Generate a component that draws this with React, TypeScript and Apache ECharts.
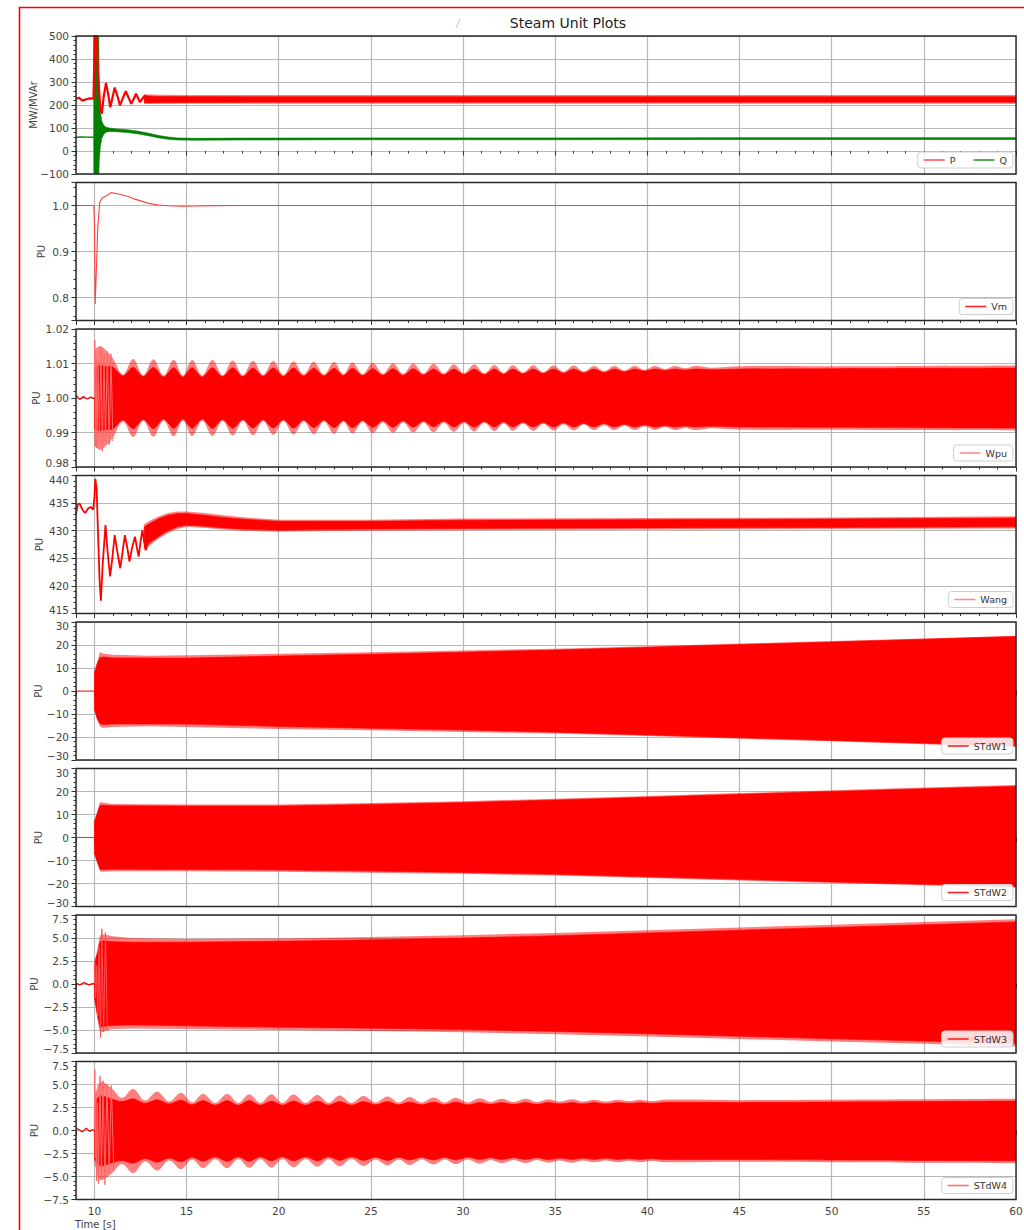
import React, { useEffect, useRef } from "react";
import * as echarts from "echarts";

type Pt = [number, number];
type Band = [number, number, number];

const FONT = "'DejaVu Sans', 'Liberation Sans', sans-serif";
const TITLE = "Steam Unit Plots";
const X_LABEL = "Time [s]";
const X_RANGE: Pt = [9, 60];
const X_STEP = 5;

// ---------- Panel 1: P (MW) and Q (MVAr)
const P_LINE: Pt[] = [
  [9.0, 226], [9.15, 232], [9.35, 219], [9.55, 225], [9.75, 229], [9.95, 228],
  [10.0, 420], [10.04, 650], [10.1, 560], [10.2, 330], [10.32, 185], [10.4, 162],
  [10.5, 235], [10.63, 296], [10.75, 245], [10.86, 190], [10.98, 232], [11.1, 276],
  [11.25, 238], [11.39, 198], [11.55, 232], [11.7, 260], [11.85, 232], [12.0, 205],
  [12.13, 226], [12.26, 249], [12.37, 230], [12.47, 212], [12.6, 228], [12.74, 241],
  [12.88, 222], [13.0, 214], [13.1, 225],
];
const P_OUTER: Band[] = [
  [12.7, 204, 247], [13.5, 204, 245], [15, 205, 244], [20, 205, 243], [30, 205, 243],
  [40, 205, 243], [50, 205, 243], [60, 205, 243],
];
const P_INNER: Band[] = [
  [12.7, 210, 240], [13.5, 211, 237], [20, 212, 236], [40, 212, 236], [60, 212, 236],
];
const Q_LINE: Pt[] = [[9.0, 60], [9.3, 61], [9.6, 60.5], [9.96, 60]];
const Q_BAND: Band[] = [
  [9.96, 58, 62], [9.97, -160, 620], [10.22, -160, 620], [10.26, -40, 260], [10.32, 20, 170],
  [10.4, 55, 130], [10.5, 72, 112], [10.62, 82, 104], [10.8, 85, 100], [11.2, 84, 96],
  [11.8, 80, 92], [12.4, 74, 86], [13.0, 65, 76], [13.5, 57, 67], [14.0, 51, 61],
  [14.5, 48, 57], [15.5, 47, 55], [18, 48, 56], [25, 49, 57], [35, 49, 57], [45, 50, 58],
  [60, 50, 58],
];

// ---------- Panel 2: Vm
const VM_LINE: Pt[] = [
  [9.0, 1.0], [9.97, 1.0], [10.0, 0.96], [10.04, 0.786], [10.09, 0.84], [10.18, 0.95],
  [10.28, 1.005], [10.4, 1.016], [10.6, 1.02], [10.9, 1.028], [11.3, 1.025], [11.8, 1.02],
  [12.1, 1.015], [12.6, 1.009], [13.0, 1.004], [13.5, 1.001], [14.0, 0.9995], [14.8, 0.9985],
  [15.6, 0.999], [16.5, 0.9998], [18, 1.0], [60, 1.0],
];

// ---------- Panel 3: Wpu  (envelope: [t, outer half-width, solid half-width])
const WPU_CENTER = 1.0;
const WPU_PRE: Pt[] = [
  [9.0, 1.0008], [9.2, 0.9996], [9.4, 1.0004], [9.6, 0.9997], [9.8, 1.0003], [9.97, 0.9998], [10.0, 1.0],
];
const WPU_SPIKES: Pt[] = [
  [10.0, 1.0], [10.02, 1.0168], [10.05, 0.9862], [10.09, 1.012], [10.14, 0.9855], [10.2, 1.0105],
  [10.27, 0.9868], [10.35, 1.0148], [10.43, 0.9846], [10.52, 1.0125], [10.6, 0.987],
  [10.7, 1.0135], [10.8, 0.9865], [10.9, 1.0128], [11.0, 0.9875],
];
const WPU_ENV: Band[] = [
  [10.0, 0.014, 0.009], [10.3, 0.015, 0.0095], [10.6, 0.014, 0.0092], [11.0, 0.0115, 0.009],
  [11.55, 0.0068, 0.0064], [12.1, 0.0113, 0.0089], [12.65, 0.0066, 0.0062], [13.2, 0.0112, 0.0089],
  [13.75, 0.0065, 0.0061], [14.3, 0.0111, 0.0088], [14.8, 0.0065, 0.0061], [15.3, 0.011, 0.0088],
  [15.85, 0.0065, 0.0061], [16.4, 0.011, 0.0088], [16.95, 0.0066, 0.0062], [17.5, 0.0109, 0.0088],
  [18.05, 0.0066, 0.0062], [18.6, 0.0108, 0.0087], [19.15, 0.0067, 0.0063], [19.7, 0.0107, 0.0087],
  [20.25, 0.0067, 0.0063], [20.8, 0.0106, 0.0087], [21.35, 0.0068, 0.0064], [21.9, 0.0105, 0.0086],
  [22.45, 0.0068, 0.0064], [23.0, 0.0104, 0.0086], [23.5, 0.0069, 0.0065], [24.0, 0.0103, 0.0086],
  [24.55, 0.0069, 0.0065], [25.1, 0.0102, 0.0085], [25.65, 0.007, 0.0066], [26.2, 0.0101, 0.0085],
  [26.75, 0.007, 0.0066], [27.3, 0.01, 0.0085], [27.85, 0.0071, 0.0067], [28.4, 0.0099, 0.0084],
  [28.95, 0.0071, 0.0067], [29.5, 0.0098, 0.0084], [30.05, 0.0072, 0.0068], [30.6, 0.0097, 0.0084],
  [31.15, 0.0072, 0.0068], [31.7, 0.0096, 0.0084], [32.2, 0.0073, 0.0069], [32.7, 0.0095, 0.0084],
  [33.25, 0.0074, 0.007], [33.8, 0.0095, 0.0084], [34.35, 0.0075, 0.0071], [34.9, 0.0094, 0.0084],
  [35.45, 0.0076, 0.0072], [36.0, 0.0094, 0.0084], [36.55, 0.0077, 0.0073], [37.1, 0.0093, 0.0084],
  [37.65, 0.0078, 0.0074], [38.2, 0.0093, 0.0084], [38.75, 0.008, 0.0076], [39.3, 0.0093, 0.0084],
  [39.85, 0.0082, 0.0078], [40.4, 0.0093, 0.0084], [40.95, 0.0084, 0.008], [41.5, 0.0093, 0.0084],
  [42.05, 0.0086, 0.0081], [42.6, 0.0093, 0.0084], [43.5, 0.0088, 0.0082], [45.0, 0.0092, 0.0084],
  [50.0, 0.0092, 0.0085], [55.0, 0.0093, 0.0086], [60.0, 0.0094, 0.0087],
];

// ---------- Panel 4: Wang
const WANG_LINE: Pt[] = [
  [9.0, 433.0], [9.1, 434.8], [9.2, 434.9], [9.35, 433.8], [9.5, 433.2], [9.65, 434.0],
  [9.8, 434.3], [9.93, 433.8], [10.0, 436], [10.05, 439.4], [10.12, 437.5], [10.2, 429],
  [10.28, 421], [10.35, 417.3], [10.45, 424], [10.6, 431.0], [10.72, 426], [10.85, 421.7],
  [10.97, 425], [11.1, 429.2], [11.25, 426], [11.4, 423.2], [11.52, 426], [11.65, 429.2],
  [11.78, 427], [11.9, 424.4], [12.05, 427], [12.2, 428.9], [12.3, 427], [12.4, 425.3],
  [12.5, 428], [12.6, 430.1], [12.7, 428], [12.8, 426.5], [12.95, 429], [13.1, 430],
];
const WANG_OUTER: Band[] = [
  [12.7, 426.3, 431.2], [13.0, 427.3, 431.8], [13.5, 428.6, 432.6], [14, 429.6, 433.2],
  [14.5, 430.3, 433.5], [15, 430.7, 433.5], [16, 430.5, 433.2], [17, 430.2, 432.8],
  [18, 430.0, 432.5], [19, 429.9, 432.2], [20, 429.8, 432.0], [22, 429.9, 432.0],
  [25, 430.0, 432.0], [30, 430.1, 432.2], [40, 430.2, 432.3], [50, 430.3, 432.4], [60, 430.4, 432.6],
];
const WANG_INNER: Band[] = [
  [12.7, 426.8, 430.7], [13.0, 427.8, 431.3], [13.5, 429.0, 432.2], [14, 430.0, 432.8],
  [14.5, 430.7, 433.1], [15, 431.0, 433.1], [16, 430.8, 432.8], [17, 430.5, 432.4],
  [18, 430.3, 432.1], [19, 430.2, 431.9], [20, 430.1, 431.7], [22, 430.2, 431.7],
  [25, 430.3, 431.7], [30, 430.4, 431.9], [40, 430.5, 432.0], [50, 430.6, 432.1], [60, 430.7, 432.3],
];

// ---------- Panel 5: STdW1
const STDW1_PRE: Pt[] = [[9.0, 0], [10.0, 0]];
const STDW1_OUTER: Band[] = [
  [10.0, -8.5, 8.5], [10.15, -12.5, 12.5], [10.3, -15.5, 16.8], [10.5, -16, 16.2], [11, -15.6, 15.8],
  [12, -15.4, 15.5], [13, -15.3, 15.3], [15, -15.6, 15.5], [20, -16.5, 16.2], [25, -17.1, 16.9],
  [30, -17.8, 17.6], [35, -18.5, 18.4], [40, -19.6, 19.5], [45, -20.8, 20.6], [50, -21.9, 21.7],
  [55, -23.1, 22.8], [60, -24.3, 24.0],
];
const STDW1_INNER: Band[] = [
  [10.0, -8, 8], [10.15, -12, 12], [10.3, -14.2, 14.6], [10.5, -14.6, 14.8], [11, -14.3, 14.4],
  [15, -14.4, 14.3], [20, -15.4, 15.2], [25, -16.2, 16.0], [30, -17.0, 16.9], [35, -17.9, 17.8],
  [40, -19.1, 19.0], [45, -20.3, 20.2], [50, -21.5, 21.3], [55, -22.7, 22.5], [60, -23.9, 23.7],
];

// ---------- Panel 6: STdW2
const STDW2_PRE: Pt[] = [[9.0, 0], [10.0, 0]];
const STDW2_OUTER: Band[] = [
  [10.0, -7.3, 7.3], [10.15, -11, 11], [10.3, -14.8, 15.4], [10.5, -14.9, 15.1], [11, -14.7, 14.6],
  [15, -14.7, 14.4], [20, -14.9, 14.3], [25, -15.3, 15.0], [30, -15.8, 15.8], [35, -16.5, 16.9],
  [40, -17.6, 18.0], [45, -18.7, 19.3], [50, -19.8, 20.5], [55, -20.8, 21.7], [60, -21.9, 22.8],
];
const STDW2_INNER: Band[] = [
  [10.0, -7, 7], [10.15, -10.5, 10.5], [10.3, -13.8, 14.0], [10.5, -14.0, 14.0], [11, -13.8, 13.8],
  [15, -13.9, 13.7], [20, -14.1, 13.7], [25, -14.6, 14.4], [30, -15.2, 15.2], [35, -16.0, 16.3],
  [40, -17.1, 17.5], [45, -18.2, 18.8], [50, -19.3, 20.0], [55, -20.3, 21.2], [60, -21.4, 22.3],
];

// ---------- Panel 7: STdW3
const STDW3_PRE: Pt[] = [[9.0, 0.1], [9.2, -0.1], [9.45, 0.15], [9.7, -0.1], [9.9, 0.05], [10.0, 0]];
const STDW3_SPIKES: Pt[] = [
  [10.0, 0], [10.02, 2.4], [10.06, -1.5], [10.12, 2.0], [10.18, -3.5], [10.25, 4.0],
  [10.33, -5.8], [10.4, 6.0], [10.5, -5.2], [10.6, 5.6], [10.7, -5.0],
];
const STDW3_OUTER: Band[] = [
  [10.0, -1.6, 2.4], [10.15, -3.6, 3.6], [10.3, -5.3, 5.3], [10.5, -5.1, 5.4], [11, -4.9, 5.2],
  [12, -4.85, 5.0], [15, -4.9, 4.9], [20, -5.0, 4.95], [25, -5.1, 5.1], [30, -5.25, 5.3],
  [35, -5.45, 5.55], [40, -5.7, 5.85], [45, -5.98, 6.15], [50, -6.25, 6.45], [55, -6.5, 6.75], [60, -6.8, 7.05],
];
const STDW3_INNER: Band[] = [
  [10.0, -1.4, 2.2], [10.15, -3.3, 3.3], [10.3, -4.7, 4.6], [10.5, -4.6, 4.7], [11, -4.5, 4.6],
  [12, -4.45, 4.55], [15, -4.55, 4.55], [20, -4.7, 4.65], [25, -4.8, 4.8], [30, -4.95, 5.0],
  [35, -5.15, 5.25], [40, -5.4, 5.55], [45, -5.68, 5.85], [50, -5.95, 6.15], [55, -6.2, 6.45], [60, -6.5, 6.75],
];

// ---------- Panel 8: STdW4 (envelope: [t, outer half-width, solid half-width])
const STDW4_CENTER = -0.05;
const STDW4_PRE: Pt[] = [[9.0, 0.3], [9.15, 0.1], [9.35, -0.15], [9.55, 0.25], [9.75, -0.1], [9.9, 0.1], [10.0, 0.0]];
const STDW4_SPIKES: Pt[] = [
  [10.0, 0.0], [10.02, 6.6], [10.05, -3.0], [10.08, 4.2], [10.12, -5.5], [10.17, 3.0],
  [10.22, -5.8], [10.3, 5.9], [10.38, -4.8], [10.47, 5.4], [10.57, -5.9], [10.68, 5.0],
  [10.8, -4.6], [10.92, 4.9], [11.05, -4.4],
];
const STDW4_ENV: Band[] = [
  [10.0, 3.5, 3.0], [10.3, 5.3, 3.8], [10.9, 4.7, 3.5], [11.5, 3.6, 3.2], [12.1, 4.6, 3.5],
  [12.75, 3.3, 3.0], [13.4, 4.3, 3.4], [14.05, 3.2, 2.95], [14.7, 4.15, 3.35], [15.3, 3.1, 2.85],
  [15.9, 4.05, 3.3], [16.55, 3.05, 2.8], [17.2, 4.05, 3.3], [17.8, 3.05, 2.8], [18.4, 4.0, 3.3],
  [19.0, 3.05, 2.8], [19.6, 4.0, 3.25], [20.2, 3.05, 2.8], [20.8, 3.95, 3.25], [21.45, 3.05, 2.8],
  [22.1, 3.9, 3.25], [22.7, 3.05, 2.8], [23.3, 3.85, 3.2], [23.95, 3.05, 2.8], [24.6, 3.8, 3.2],
  [25.25, 3.1, 2.85], [25.9, 3.75, 3.2], [26.5, 3.1, 2.85], [27.1, 3.7, 3.15], [27.75, 3.1, 2.85],
  [28.4, 3.65, 3.15], [29.0, 3.1, 2.85], [29.6, 3.6, 3.15], [30.25, 3.1, 2.85], [30.9, 3.55, 3.1],
  [31.5, 3.15, 2.9], [32.1, 3.5, 3.1], [32.75, 3.15, 2.9], [33.4, 3.5, 3.1], [34.0, 3.15, 2.9],
  [34.6, 3.45, 3.1], [35.25, 3.2, 2.95], [35.9, 3.45, 3.1], [36.5, 3.2, 2.95], [37.1, 3.4, 3.1],
  [37.75, 3.2, 2.95], [38.4, 3.4, 3.1], [39.0, 3.25, 3.0], [39.6, 3.4, 3.1], [40.25, 3.25, 3.0],
  [40.9, 3.4, 3.1], [45.0, 3.35, 3.1], [50.0, 3.4, 3.15], [55.0, 3.45, 3.2], [60.0, 3.5, 3.25],
];

// ---------- Axis settings per panel
const PANELS = [
  { yMin: -100, yMax: 500, interval: 100, step: 100, dec: 0, yName: "MW/MVAr", nameGap: 38, shiftMin: false, shiftMax: false },
  { yMin: 0.75, yMax: 1.05, splitNumber: 3, step: 0.1, dec: 1, yName: "PU", nameGap: 30, shiftMin: false, shiftMax: false },
  { yMin: 0.98, yMax: 1.02, splitNumber: 4, step: 0.01, dec: 2, yName: "PU", nameGap: 35, shiftMin: true, shiftMax: false },
  { yMin: 415, yMax: 440, interval: 5, step: 5, dec: 0, yName: "PU", nameGap: 32, shiftMin: true, shiftMax: true },
  { yMin: -30, yMax: 30, interval: 10, step: 10, dec: 0, yName: "PU", nameGap: 33, shiftMin: true, shiftMax: true },
  { yMin: -30, yMax: 30, interval: 10, step: 10, dec: 0, yName: "PU", nameGap: 33, shiftMin: true, shiftMax: true },
  { yMin: -7.5, yMax: 7.5, interval: 2.5, step: 2.5, dec: 1, yName: "PU", nameGap: 37, shiftMin: true, shiftMax: true },
  { yMin: -7.5, yMax: 7.5, interval: 2.5, step: 2.5, dec: 1, yName: "PU", nameGap: 37, shiftMin: false, shiftMax: true },
];
const LEGENDS = [
  [{ name: "P", color: "#ff5a5a" }, { name: "Q", color: "#2e9a2e" }],
  [{ name: "Vm", color: "#ff2a2a" }],
  [{ name: "Wpu", color: "#ff8c8c" }],
  [{ name: "Wang", color: "#ff8c8c" }],
  [{ name: "STdW1", color: "#ff2020" }],
  [{ name: "STdW2", color: "#ff2020" }],
  [{ name: "STdW3", color: "#ff2020" }],
  [{ name: "STdW4", color: "#ff7070" }],
];

// ---------- Layout
const GRID_LEFT = 76;
const GRID_RIGHT = 8;
const GRID_TOP0 = 36;
const GRID_STEP = 146.5;
const GRID_H = 138;
const CHART_W = 1024;
const CHART_H = 1230;

const RED = "#ff0000";
const PINK = "rgba(255,0,0,0.5)";
const GREEN = "#008000";
const LABEL_COLOR = "#444";
const LABEL_SIZE = 10.5;

const gridTop = (i: number) => GRID_TOP0 + i * GRID_STEP;

const fmt = (v: number, dec: number) => {
  const s = Math.abs(v).toFixed(dec);
  return (v < -1e-9 ? "\u2212" : "") + s;
};
const onStep = (v: number, step: number) => Math.abs(v / step - Math.round(v / step)) < 1e-6;
const near = (a: number, b: number) => Math.abs(a - b) < 1e-9;

const envToBand = (env: Band[], c: number, which: 1 | 2): Band[] =>
  env.map((d) => [d[0], c - d[which], c + d[which]] as Band);

const lineSeries = (gi: number, name: string, data: Pt[], color: string, width: number, z = 5) => ({
  type: "line",
  name,
  xAxisIndex: gi,
  yAxisIndex: gi,
  data,
  symbol: "none",
  showSymbol: false,
  silent: true,
  z,
  lineStyle: { color, width },
  itemStyle: { color },
});

const bandSeries = (gi: number, band: Band[], fill: string, solid: boolean, z: number, smooth = 0) => ({
  type: "custom",
  xAxisIndex: gi,
  yAxisIndex: gi,
  silent: true,
  z,
  data: band,
  encode: { x: 0, y: [1, 2] },
  renderItem: (params: any, api: any) => {
    if (params.dataIndex !== 0) return null;
    const upper = band.map((d) => api.coord([d[0], d[2]]));
    const lower = band.slice().reverse().map((d) => api.coord([d[0], d[1]]));
    // repeat the corner vertices so that smoothing keeps the band ends square
    const pts = smooth
      ? [upper[0], ...upper, upper[upper.length - 1], lower[0], ...lower, lower[lower.length - 1]]
      : upper.concat(lower);
    const cs = params.coordSys;
    return {
      type: "polygon",
      shape: { points: pts, smooth },
      style: solid ? { fill, stroke: fill, lineWidth: 0.6 } : { fill },
      clipPath: { type: "rect", shape: { x: cs.x, y: cs.y, width: cs.width, height: cs.height } },
    };
  },
});

function buildOption() {
  const series: any[] = [
    // panel 1
    bandSeries(0, Q_BAND, GREEN, true, 2),
    lineSeries(0, "Q", Q_LINE, GREEN, 1.4, 3),
    bandSeries(0, P_OUTER, PINK, false, 4),
    bandSeries(0, P_INNER, RED, true, 4),
    lineSeries(0, "P", P_LINE, RED, 2.2, 5),
    // panel 2
    lineSeries(1, "Vm", VM_LINE, "#ff4040", 1.1),
    // panel 3
    bandSeries(2, envToBand(WPU_ENV, WPU_CENTER, 1), PINK, false, 2, 0.35),
    bandSeries(2, envToBand(WPU_ENV, WPU_CENTER, 2), RED, true, 3, 0.3),
    lineSeries(2, "Wpu_spikes", WPU_SPIKES, "#ff6a6a", 1),
    lineSeries(2, "Wpu", WPU_PRE, RED, 1.3),
    // panel 4
    bandSeries(3, WANG_OUTER, PINK, false, 2),
    bandSeries(3, WANG_INNER, RED, true, 3),
    lineSeries(3, "Wang", WANG_LINE, RED, 1.8),
    // panel 5
    bandSeries(4, STDW1_OUTER, PINK, false, 2),
    bandSeries(4, STDW1_INNER, RED, true, 3),
    lineSeries(4, "STdW1", STDW1_PRE, "#ff3030", 1.1),
    // panel 6
    bandSeries(5, STDW2_OUTER, PINK, false, 2),
    bandSeries(5, STDW2_INNER, RED, true, 3),
    lineSeries(5, "STdW2", STDW2_PRE, "#ff3030", 1.1),
    // panel 7
    bandSeries(6, STDW3_OUTER, PINK, false, 2),
    bandSeries(6, STDW3_INNER, RED, true, 3),
    lineSeries(6, "STdW3_spikes", STDW3_SPIKES, "#ff5050", 1),
    lineSeries(6, "STdW3", STDW3_PRE, RED, 1.3),
    // panel 8
    bandSeries(7, envToBand(STDW4_ENV, STDW4_CENTER, 1), PINK, false, 2, 0.35),
    bandSeries(7, envToBand(STDW4_ENV, STDW4_CENTER, 2), RED, true, 3, 0.3),
    lineSeries(7, "STdW4_spikes", STDW4_SPIKES, "#ff6a6a", 1),
    lineSeries(7, "STdW4", STDW4_PRE, RED, 1.3),
  ];

  const tickStyle = { color: "#333", width: 1 };
  const splitStyle = { color: "#b8b8b8", width: 1.2 };
  const baseText = { fontFamily: FONT, fontSize: LABEL_SIZE, color: LABEL_COLOR };

  const grid = PANELS.map((_, i) => ({
    left: GRID_LEFT,
    right: GRID_RIGHT,
    top: gridTop(i),
    height: GRID_H,
    containLabel: false,
    outerBoundsMode: "none",
  }));

  const xAxis = PANELS.map((_, i) => ({
    gridIndex: i,
    type: "value",
    min: X_RANGE[0],
    max: X_RANGE[1],
    splitNumber: 10,
    axisLine: { show: false },
    axisTick: { show: true, length: 4.5, lineStyle: tickStyle },
    minorTick: { show: true, splitNumber: 5, length: 2.5, lineStyle: tickStyle },
    splitLine: { show: true, lineStyle: splitStyle },
    minorSplitLine: { show: false },
    axisLabel: {
      show: i === PANELS.length - 1,
      ...baseText,
      margin: 6,
      formatter: (v: number) => (onStep(v, X_STEP) ? String(Math.round(v)) : ""),
    },
  }));

  const yAxis = PANELS.map((p: any, i) => ({
    gridIndex: i,
    type: "value",
    min: p.yMin,
    max: p.yMax,
    ...(p.interval ? { interval: p.interval } : { splitNumber: p.splitNumber }),
    axisLine: { show: false },
    axisTick: { show: true, length: 4.5, lineStyle: tickStyle },
    minorTick: { show: true, splitNumber: 5, length: 2.5, lineStyle: tickStyle },
    splitLine: { show: true, lineStyle: splitStyle },
    minorSplitLine: { show: false },
    axisLabel: {
      ...baseText,
      margin: 7,
      formatter: (v: number) => {
        if (!onStep(v, p.step)) return "";
        const s = fmt(v, p.dec);
        if (p.shiftMin && near(v, p.yMin)) return "{lo|" + s + "}";
        if (p.shiftMax && near(v, p.yMax)) return "{hi|" + s + "}";
        return s;
      },
      rich: {
        lo: { ...baseText, padding: [0, 0, 8, 0] },
        hi: { ...baseText, padding: [8, 0, 0, 0] },
      },
    },
    name: p.yName,
    nameLocation: "middle",
    nameGap: p.nameGap,
    nameRotate: 90,
    nameMoveOverlap: false,
    nameTextStyle: { fontFamily: FONT, fontSize: 10, color: LABEL_COLOR },
  }));

  const legend = LEGENDS.map((items, i) => ({
    top: gridTop(i) + GRID_H - 22,
    right: 11,
    orient: "horizontal",
    data: items.map((it) => ({ name: it.name, itemStyle: { color: it.color } })),
    icon: "rect",
    itemWidth: 21,
    itemHeight: 1.6,
    itemGap: 18,
    padding: [3, 6],
    borderColor: "#cfcfcf",
    borderWidth: 1,
    borderRadius: 3,
    backgroundColor: "rgba(255,255,255,0.85)",
    selectedMode: false,
    textStyle: { fontFamily: FONT, fontSize: 9.5, color: "#333" },
  }));

  const frames = PANELS.map((_, i) => ({
    type: "rect",
    silent: true,
    z: 150,
    shape: { x: GRID_LEFT, y: gridTop(i), width: CHART_W - GRID_LEFT - GRID_RIGHT, height: GRID_H },
    style: { fill: "none", stroke: "#2a2a2a", lineWidth: 1.4 },
  }));

  const graphic = [
    ...frames,
    {
      type: "rect",
      silent: true,
      z: 200,
      shape: { x: 19.5, y: 7.5, width: 1020, height: 1240 },
      style: { fill: "none", stroke: RED, lineWidth: 1.6 },
    },
    {
      type: "text",
      silent: true,
      z: 200,
      x: 568,
      y: 23,
      style: { text: TITLE, fontFamily: FONT, fontSize: 14, fill: "#222", align: "center", verticalAlign: "middle" },
    },
    {
      type: "text",
      silent: true,
      z: 200,
      x: 458,
      y: 23,
      style: { text: "/", fontFamily: FONT, fontSize: 10, fontStyle: "italic", fill: "#bbbbbb", align: "center", verticalAlign: "middle" },
    },
    {
      type: "text",
      silent: true,
      z: 200,
      x: 75,
      y: 1219,
      style: { text: X_LABEL, fontFamily: FONT, fontSize: 10, fill: LABEL_COLOR, align: "left", verticalAlign: "top" },
    },
  ];

  return {
    animation: false,
    backgroundColor: "#ffffff",
    textStyle: { fontFamily: FONT },
    grid,
    xAxis,
    yAxis,
    legend,
    series,
    graphic,
  };
}

export default function App() {
  const ref = useRef<HTMLDivElement>(null);
  useEffect(() => {
    if (!ref.current) return;
    const chart = echarts.init(ref.current, null, { renderer: "svg" });
    chart.setOption(buildOption() as any);
    return () => chart.dispose();
  }, []);
  return (
    <div
      ref={ref}
      style={{ position: "absolute", left: 0, top: 0, width: CHART_W, height: CHART_H, background: "#fff" }}
    />
  );
}
